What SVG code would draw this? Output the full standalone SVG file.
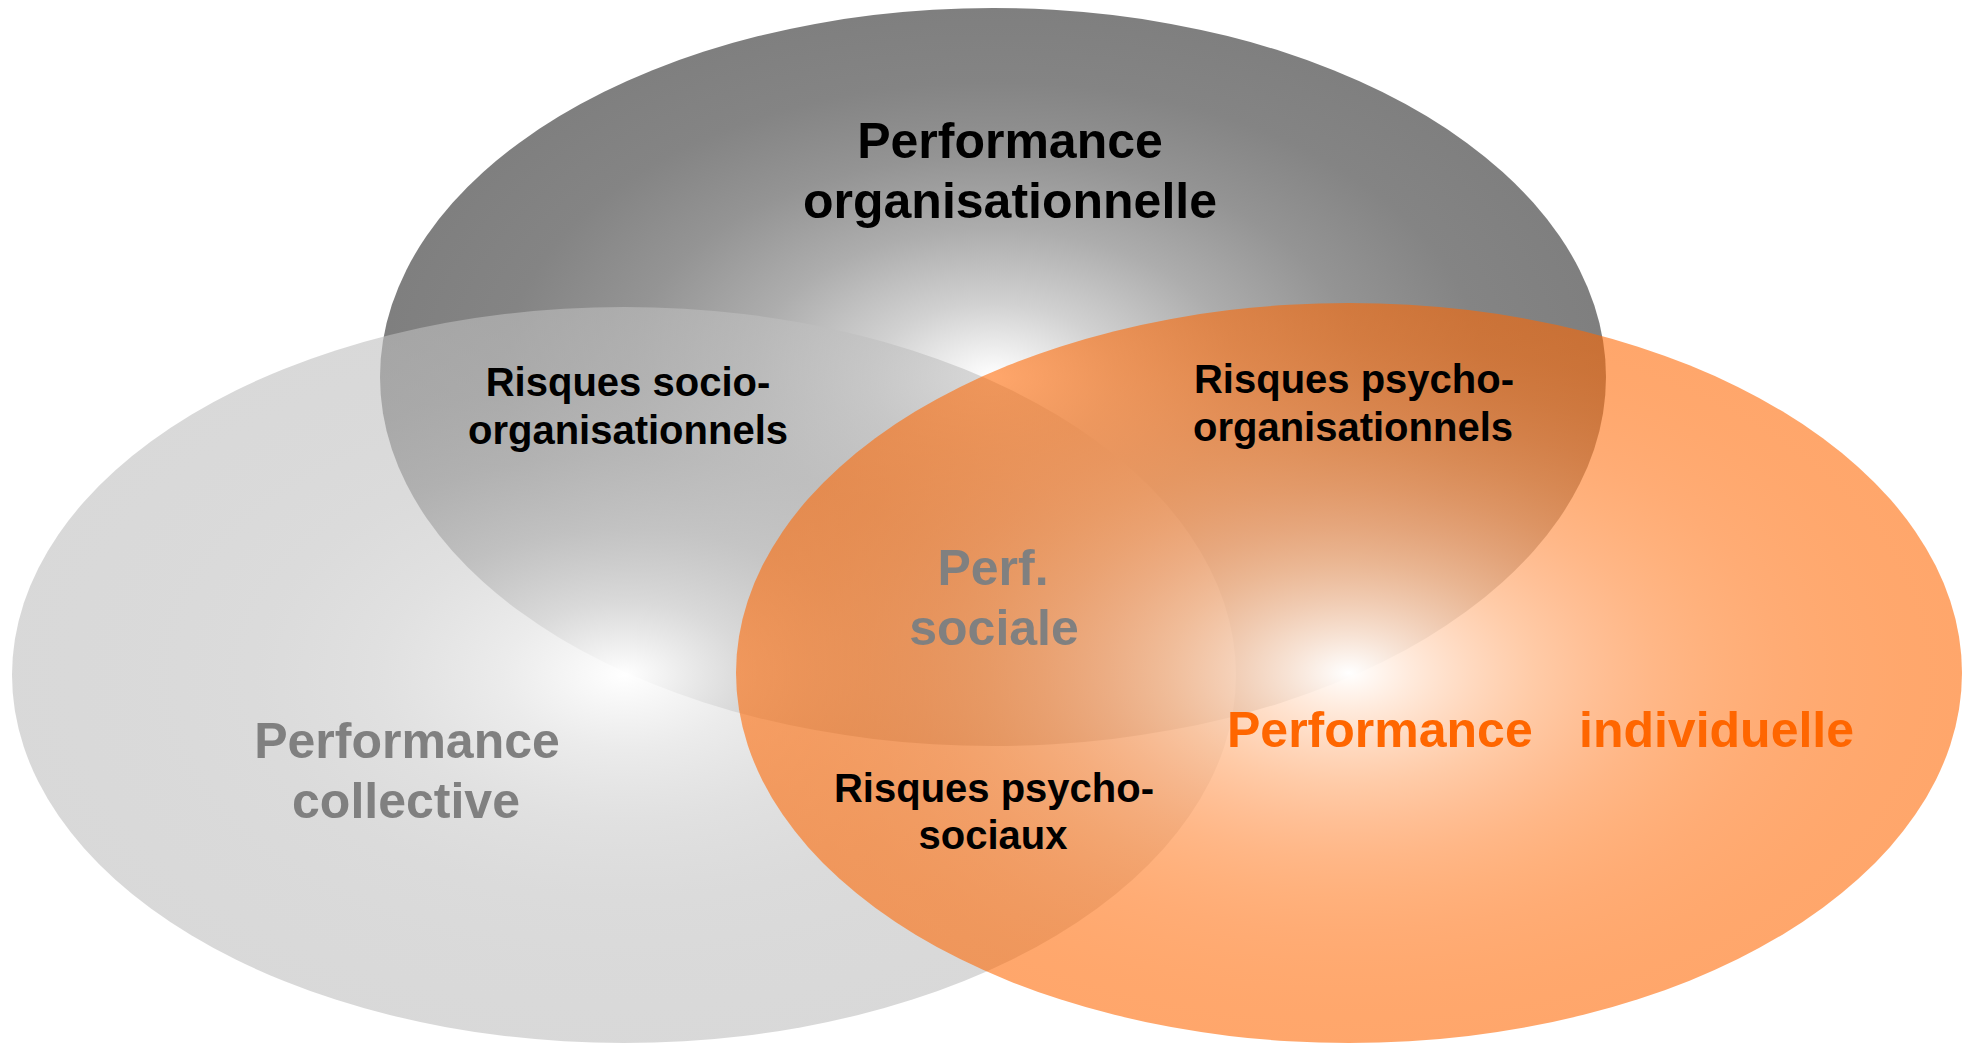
<svg xmlns="http://www.w3.org/2000/svg" width="1968" height="1043" viewBox="0 0 1968 1043">
  <defs>
    <radialGradient id="gTop" cx="50%" cy="50%" r="50%">
      <stop offset="0" stop-color="#ffffff"/>
      <stop offset="0.2" stop-color="#d1d1d1"/>
      <stop offset="0.4" stop-color="#adadad"/>
      <stop offset="0.6" stop-color="#949494"/>
      <stop offset="0.8" stop-color="#848484"/>
      <stop offset="1" stop-color="#7f7f7f"/>
    </radialGradient>
    <radialGradient id="gLeft" cx="50%" cy="50%" r="50%">
      <stop offset="0" stop-color="#ffffff" stop-opacity="1"/>
      <stop offset="0.2" stop-color="#e8e8e8" stop-opacity="0.856"/>
      <stop offset="0.4" stop-color="#d6d6d6" stop-opacity="0.744"/>
      <stop offset="0.6" stop-color="#c9c9c9" stop-opacity="0.664"/>
      <stop offset="0.8" stop-color="#c2c2c2" stop-opacity="0.616"/>
      <stop offset="1" stop-color="#bfbfbf" stop-opacity="0.6"/>
    </radialGradient>
    <radialGradient id="gRight" cx="50%" cy="50%" r="50%">
      <stop offset="0" stop-color="#ffffff" stop-opacity="1"/>
      <stop offset="0.1" stop-color="#ffe9da" stop-opacity="0.939"/>
      <stop offset="0.2" stop-color="#ffd4b7" stop-opacity="0.881"/>
      <stop offset="0.3" stop-color="#ffc095" stop-opacity="0.826"/>
      <stop offset="0.4" stop-color="#ffad77" stop-opacity="0.775"/>
      <stop offset="0.5" stop-color="#ff9c5a" stop-opacity="0.729"/>
      <stop offset="0.6" stop-color="#ff8d40" stop-opacity="0.686"/>
      <stop offset="0.7" stop-color="#ff7f2a" stop-opacity="0.649"/>
      <stop offset="0.8" stop-color="#ff7417" stop-opacity="0.617"/>
      <stop offset="0.9" stop-color="#ff6b08" stop-opacity="0.593"/>
      <stop offset="1" stop-color="#ff6600" stop-opacity="0.58"/>
    </radialGradient>
  </defs>
  <style>
    text { font-family: "Liberation Sans", Arial, sans-serif; font-weight: bold; text-anchor: middle; }
    .big { font-size: 50px; }
    .small { font-size: 40px; }
    .black { fill: #000000; }
    .gray { fill: #808080; }
    .orange { fill: #ff6600; }
  </style>
  <rect x="0" y="0" width="1968" height="1043" fill="#ffffff"/>
  <g id="node-organisationnelle">
    <ellipse cx="993" cy="377" rx="613" ry="369" fill="url(#gTop)"/>
  </g>
  <g id="node-collective">
    <ellipse cx="624" cy="675" rx="612" ry="368" fill="url(#gLeft)"/>
  </g>
  <g id="node-individuelle">
    <ellipse cx="1349" cy="673" rx="613" ry="370" fill="url(#gRight)"/>
  </g>
  <g id="labels">
    <g id="label-organisationnelle">
      <text class="big black" x="1010" y="158">Performance</text>
      <text class="big black" x="1010" y="218">organisationnelle</text>
    </g>
    <g id="label-collective">
      <text class="big gray" x="407" y="758">Performance</text>
      <text class="big gray" x="406" y="818">collective</text>
    </g>
    <g id="label-individuelle">
      <text class="big orange" x="1227" y="747" style="text-anchor:start">Performance<tspan x="1579">individuelle</tspan></text>
    </g>
    <g id="label-socio-org">
      <text class="small black" x="628" y="396">Risques socio-</text>
      <text class="small black" x="628" y="444">organisationnels</text>
    </g>
    <g id="label-psycho-org">
      <text class="small black" x="1354" y="393">Risques psycho-</text>
      <text class="small black" x="1353" y="441">organisationnels</text>
    </g>
    <g id="label-psycho-sociaux">
      <text class="small black" x="994" y="802">Risques psycho-</text>
      <text class="small black" x="993" y="849">sociaux</text>
    </g>
    <g id="label-perf-sociale">
      <text class="big gray" x="993" y="585">Perf.</text>
      <text class="big gray" x="994" y="645">sociale</text>
    </g>
  </g>
</svg>
